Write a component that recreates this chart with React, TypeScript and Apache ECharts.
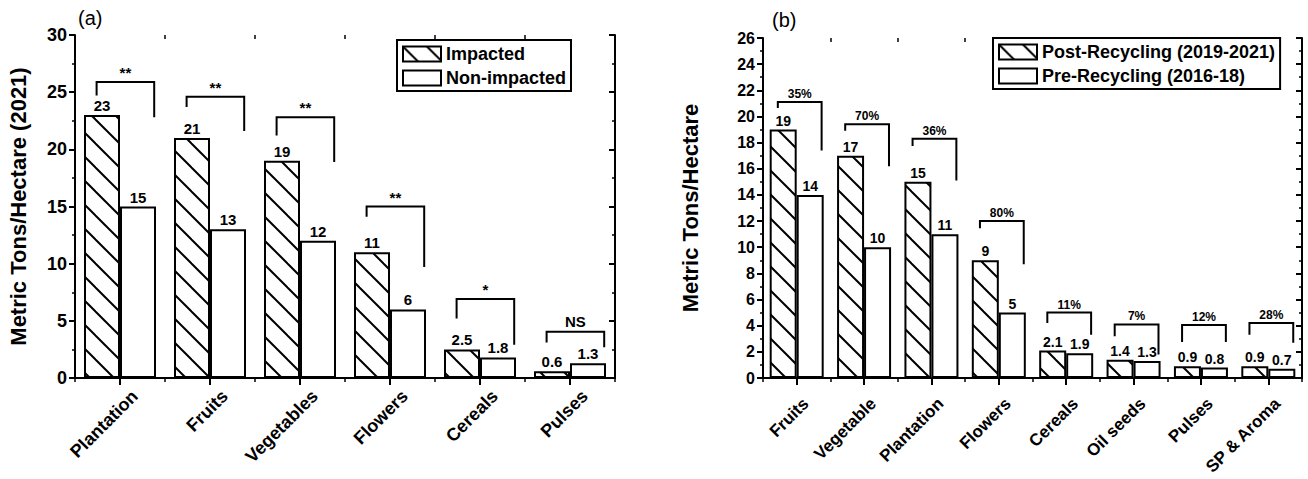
import React, { useEffect, useRef } from 'react';
import * as echarts from 'echarts';

// ---------- Panel (a) data ----------
const categoriesA = ['Plantation', 'Fruits', 'Vegetables', 'Flowers', 'Cereals', 'Pulses'];
const impacted = [23, 21, 19, 11, 2.5, 0.6];
const nonImpacted = [15, 13, 12, 6, 1.8, 1.3];
const bracketTopA = [25.9, 24.6, 22.8, 15.0, 6.9, 4.05];
const bracketLeftEndA = [24.7, 23.7, 21.2, 14.1, 5.2, 3.1];
const bracketRightEndA = [22.8, 21.6, 18.9, 9.7, 2.9, 2.7];
const sigLabelsA = ['**', '**', '**', '**', '*', 'NS'];

// ---------- Panel (b) data ----------
const categoriesB = ['Fruits', 'Vegetable', 'Plantation', 'Flowers', 'Cereals', 'Oil seeds', 'Pulses', 'SP & Aroma'];
const postRecycling = [19, 17, 15, 9, 2.1, 1.4, 0.9, 0.9];
const preRecycling = [14, 10, 11, 5, 1.9, 1.3, 0.8, 0.7];
const bracketTopB = [21.1, 19.4, 18.3, 12.0, 5.0, 4.1, 4.05, 4.2];
const bracketLeftEndB = [20.65, 18.9, 17.75, 11.45, 4.2, 3.2, 2.75, 3.3];
const bracketRightEndB = [17.4, 16.2, 15.1, 8.7, 3.3, 1.8, 2.75, 2.7];
const pctLabelsB = ['35%', '70%', '36%', '80%', '11%', '7%', '12%', '28%'];

const FONT = '"Liberation Sans", Arial, Helvetica, sans-serif';

function makeHatch(size: number) {
  const c = document.createElement('canvas');
  c.width = size;
  c.height = size;
  const ctx = c.getContext('2d')!;
  ctx.fillStyle = '#fff';
  ctx.fillRect(0, 0, size, size);
  ctx.strokeStyle = '#000';
  ctx.lineWidth = 2;
  for (const o of [-size, 0, size]) {
    ctx.beginPath();
    ctx.moveTo(-2, o - 2);
    ctx.lineTo(size + 2, size + o + 2);
    ctx.stroke();
  }
  return c;
}

function bracketSeries(
  xAxisIndex: number,
  yAxisIndex: number,
  tops: number[],
  lefts: number[],
  rights: number[],
  labels: string[],
  offL: number,
  offR: number,
  fontSize: number
) {
  return {
    type: 'custom',
    xAxisIndex,
    yAxisIndex,
    z: 5,
    clip: false,
    silent: true,
    encode: { x: 0, y: 1 },
    data: tops.map((t, i) => [i, t, lefts[i], rights[i]]),
    renderItem: (params: any, api: any) => {
      const i = api.value(0);
      const top = api.coord([i, api.value(1)]);
      const l = api.coord([i, api.value(2)]);
      const r = api.coord([i, api.value(3)]);
      const slot = api.size([1, 0])[0];
      const xl = top[0] + offL * slot;
      const xr = top[0] + offR * slot;
      const lbl = labels[params.dataIndex];
      return {
        type: 'group',
        children: [
          {
            type: 'polyline',
            shape: { points: [[xl, l[1]], [xl, top[1]], [xr, top[1]], [xr, r[1]]] },
            style: { stroke: '#000', lineWidth: 2, fill: null },
          },
          {
            type: 'text',
            style: {
              text: lbl,
              x: (xl + xr) / 2,
              y: top[1] - (lbl === 'NS' ? 3 : 2),
              align: 'center',
              verticalAlign: 'bottom',
              fontSize,
              fontWeight: 'bold',
              fontFamily: FONT,
              fill: '#000',
            },
          },
        ],
      };
    },
  };
}

export default function App() {
  const ref = useRef<HTMLDivElement>(null);

  useEffect(() => {
    if (!ref.current) return;
    const chart = echarts.init(ref.current, undefined, { renderer: 'svg' });
    const hatch = { image: makeHatch(24), repeat: 'repeat', imageWidth: 24, imageHeight: 24 } as any;

    const axisLine = { show: true, lineStyle: { color: '#000', width: 2 } };
    const tickLabel = (fontSize: number) => ({ color: '#000', fontSize, fontWeight: 'bold', fontFamily: FONT });

    const catBottom = (data: string[], gridIndex: number, margin: number, pad: number, fontSize: number) => ({
      type: 'category',
      gridIndex,
      data,
      position: 'bottom',
      axisLine,
      axisTick: { show: true, alignWithLabel: true, length: 7, lineStyle: { width: 2, color: '#000' } },
      axisLabel: { ...tickLabel(fontSize), rotate: 45, margin, padding: [0, -pad, 0, 0] },
      splitLine: { show: false },
    });
    const catTop = (data: string[], gridIndex: number) => ({
      type: 'category',
      gridIndex,
      data,
      position: 'top',
      axisLine,
      axisTick: { show: true, alignWithLabel: true, inside: true, length: 6, lineStyle: { width: 2, color: '#000' } },
      axisLabel: { show: false },
      splitLine: { show: false },
    });
    const boundTicks = (n: number, gridIndex: number, position: string) => ({
      type: 'value',
      gridIndex,
      position,
      min: 0,
      max: n,
      interval: 1,
      axisLine: { show: false },
      axisTick: { show: true, inside: position === 'top', length: 4, lineStyle: { width: 1.5, color: '#000' } },
      axisLabel: { show: false },
      splitLine: { show: false },
    });
    const yLeft = (gridIndex: number, max: number, interval: number, name: string, nameGap: number, fontSize: number) => ({
      type: 'value',
      gridIndex,
      position: 'left',
      min: 0,
      max,
      interval,
      name,
      nameLocation: 'middle',
      nameRotate: 90,
      nameGap,
      nameTextStyle: { color: '#000', fontSize: 22, fontWeight: 'bold', fontFamily: FONT },
      axisLine,
      axisTick: { show: true, length: 6, lineStyle: { width: 2, color: '#000' } },
      minorTick: { show: true, splitNumber: 2, length: 3, lineStyle: { width: 1.5, color: '#000' } },
      axisLabel: { ...tickLabel(fontSize), margin: 8 },
      splitLine: { show: false },
      minorSplitLine: { show: false },
    });
    const yRight = (gridIndex: number, max: number, interval: number) => ({
      type: 'value',
      gridIndex,
      position: 'right',
      min: 0,
      max,
      interval,
      axisLine,
      axisTick: { show: true, inside: true, length: 6, lineStyle: { width: 2, color: '#000' } },
      minorTick: { show: true, splitNumber: 2, length: 3, lineStyle: { width: 1.5, color: '#000' } },
      axisLabel: { show: false },
      splitLine: { show: false },
      minorSplitLine: { show: false },
    });
    const yHidden = (gridIndex: number) => ({ type: 'value', gridIndex, show: false, min: 0, max: 1 });

    const valueLabel = (fontSize: number) => ({
      show: true,
      position: 'top',
      distance: 2,
      color: '#000',
      fontSize,
      fontWeight: 'bold',
      fontFamily: FONT,
    });
    const barStyle = (color: any) => ({ color, borderColor: '#000', borderWidth: 2 });

    const legendBase = {
      orient: 'vertical',
      icon: 'rect',
      itemWidth: 38,
      itemHeight: 15,
      itemGap: 6,
      padding: [5, 5, 4, 5],
      borderColor: '#000',
      borderWidth: 2,
      backgroundColor: '#fff',
      itemStyle: { borderColor: '#000', borderWidth: 2 },
      textStyle: { color: '#000', fontSize: 18, fontWeight: 'bold', fontFamily: FONT },
    };

    chart.setOption({
      animation: false,
      backgroundColor: '#fff',
      textStyle: { fontFamily: FONT },
      grid: [
        { left: 75, top: 35, width: 540, height: 343 },
        { left: 75, top: 35, width: 540, height: 343 },
        { left: 763, top: 38, width: 539, height: 340 },
        { left: 763, top: 38, width: 539, height: 340 },
      ],
      xAxis: [
        catBottom(categoriesA, 0, 30, 21, 18),
        catTop(categoriesA, 0),
        boundTicks(categoriesA.length, 1, 'bottom'),
        boundTicks(categoriesA.length, 1, 'top'),
        catBottom(categoriesB, 2, 32, 13, 17),
        catTop(categoriesB, 2),
        boundTicks(categoriesB.length, 3, 'bottom'),
        boundTicks(categoriesB.length, 3, 'top'),
      ],
      yAxis: [
        yLeft(0, 30, 5, 'Metric Tons/Hectare (2021)', 46, 18),
        yRight(0, 30, 5),
        yHidden(1),
        yLeft(2, 26, 2, 'Metric Tons/Hectare', 62, 16),
        yRight(2, 26, 2),
        yHidden(3),
      ],
      legend: [
        { ...legendBase, left: 397, top: 40, data: ['Impacted', 'Non-impacted'] },
        { ...legendBase, left: 993, top: 38, data: ['Post-Recycling (2019-2021)', 'Pre-Recycling (2016-18)'] },
      ],
      graphic: [
        { type: 'text', left: 78, top: 8, style: { text: '(a)', fontSize: 20, fontFamily: FONT, fill: '#000' } },
        { type: 'text', left: 772, top: 10, style: { text: '(b)', fontSize: 20, fontFamily: FONT, fill: '#000' } },
      ],
      series: [
        {
          type: 'bar',
          name: 'Impacted',
          xAxisIndex: 0,
          yAxisIndex: 0,
          data: impacted,
          barWidth: 36,
          barGap: '0%',
          itemStyle: barStyle(hatch),
          label: valueLabel(15),
        },
        {
          type: 'bar',
          name: 'Non-impacted',
          xAxisIndex: 0,
          yAxisIndex: 0,
          data: nonImpacted,
          barWidth: 36,
          barGap: '0%',
          itemStyle: barStyle('#fff'),
          label: valueLabel(15),
        },
        bracketSeries(0, 0, bracketTopA, bracketLeftEndA, bracketRightEndA, sigLabelsA, -0.26, 0.38, 15),
        {
          type: 'bar',
          name: 'Post-Recycling (2019-2021)',
          xAxisIndex: 4,
          yAxisIndex: 3,
          data: postRecycling,
          barWidth: 27,
          barGap: '0%',
          itemStyle: barStyle(hatch),
          label: valueLabel(14),
        },
        {
          type: 'bar',
          name: 'Pre-Recycling (2016-18)',
          xAxisIndex: 4,
          yAxisIndex: 3,
          data: preRecycling,
          barWidth: 27,
          barGap: '0%',
          itemStyle: barStyle('#fff'),
          label: valueLabel(14),
        },
        bracketSeries(4, 3, bracketTopB, bracketLeftEndB, bracketRightEndB, pctLabelsB, -0.28, 0.37, 12),
      ],
    });

    return () => chart.dispose();
  }, []);

  return (
    <div
      ref={ref}
      style={{ position: 'fixed', left: 0, top: 0, width: 1308, height: 479, background: '#fff' }}
    />
  );
}
